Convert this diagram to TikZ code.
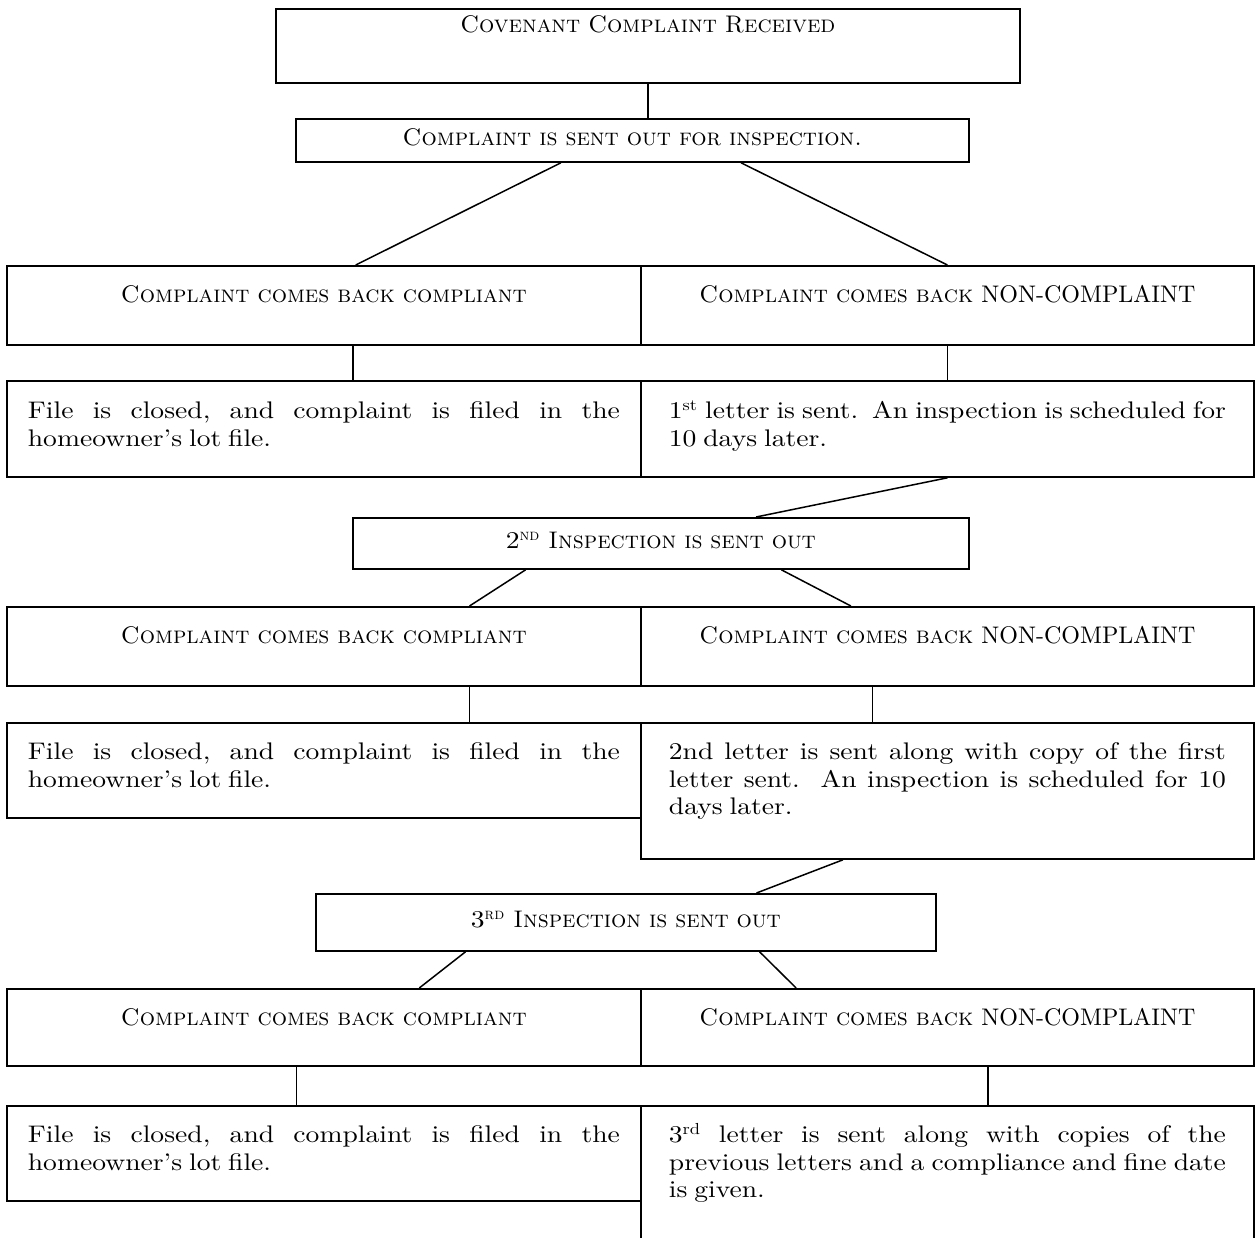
\documentclass[tikz,border=0pt]{standalone}
\usepackage{fontspec}
\setmainfont{lmroman10-regular.otf}[FakeStretch=1.15, WordSpace=0.75, SmallCapsFont=lmromancaps10-regular.otf, SmallCapsFeatures={FakeStretch=1.0}]
\newfontfamily\capsfont{lmroman10-regular.otf}
\hyphenpenalty=10000
\exhyphenpenalty=10000
\usetikzlibrary{calc}
\begin{document}
\begin{tikzpicture}[x=0.5pt,y=-0.5pt]
    \tikzstyle{box}=[draw, line width=0.9pt, anchor=north west, inner ysep=0pt, font=\fontsize{12}{13.75}\selectfont]
    \tikzstyle{cbox}=[box, inner xsep=0pt, align=center]
    \tikzstyle{lbox}=[box, inner xsep=10.5pt, text width=296pt, align=justify]
    \tikzstyle{rbox}=[box, inner xsep=14pt, text width=278.5pt, align=justify]
    \tikzstyle{conn}=[line width=0.75pt]
    \useasboundingbox (0,0) rectangle (1257,1237);
    % first inspection
    \node[cbox, text width=372pt, text height=12pt, text depth=25pt] (A) at (275,8) {\textsc{Covenant Complaint Received}};
    \node[cbox, text width=336.5pt, text height=13.5pt, text depth=8pt] (B) at (295,118) {\textsc{Complaint is sent out for inspection.}};
    \node[cbox, text width=317pt, text height=18.5pt, text depth=21pt] (C1) at (6,265) {\textsc{Complaint comes back compliant}};
    \node[cbox, text width=306.5pt, text height=18.5pt, text depth=21pt] (C2) at (640,265) {\textsc{Complaint comes back} {\capsfont NON-COMPLAINT}};
    \node[lbox, text height=19pt, text depth=29pt] (D1) at (6,380) {File~is~closed,~and~complaint~is~filed~in~the\linebreak homeowner's lot file.};
    \node[rbox, text height=19pt, text depth=29pt] (D2) at (640,380) {1\textsuperscript{st}~letter~is~sent.~~An~inspection~is~scheduled~for\linebreak 10 days later.};
    % second inspection
    \node[cbox, text width=308pt, text height=15.5pt, text depth=10pt] (E) at (352,517) {2\textsuperscript{\textsc{nd}} \textsc{Inspection is sent out}};
    \node[cbox, text width=317pt, text height=18.5pt, text depth=21pt] (F1) at (6,606) {\textsc{Complaint comes back compliant}};
    \node[cbox, text width=306.5pt, text height=18.5pt, text depth=21pt] (F2) at (640,606) {\textsc{Complaint comes back} {\capsfont NON-COMPLAINT}};
    \node[lbox, text height=18.5pt, text depth=29pt] (G1) at (6,722) {File~is~closed,~and~complaint~is~filed~in~the\linebreak homeowner's lot file.};
    \node[rbox, text height=18.5pt, text depth=49.5pt] (G2) at (640,722) {2nd~letter~is~sent~along~with~copy~of~the~first\linebreak letter~sent.~~An~inspection~is~scheduled~for~10\linebreak days later.};
    % third inspection
    \node[cbox, text width=310pt, text height=17pt, text depth=11.5pt] (H) at (315,893) {3\textsuperscript{\textsc{rd}} \textsc{Inspection is sent out}};
    \node[cbox, text width=317pt, text height=18.5pt, text depth=20pt] (I1) at (6,988) {\textsc{Complaint comes back compliant}};
    \node[cbox, text width=306.5pt, text height=18.5pt, text depth=20pt] (I2) at (640,988) {\textsc{Complaint comes back} {\capsfont NON-COMPLAINT}};
    \node[lbox, text height=18.5pt, text depth=29pt] (J1) at (6,1105) {File~is~closed,~and~complaint~is~filed~in~the\linebreak homeowner's lot file.};
    \node[rbox, text height=18.5pt, text depth=64pt] (J2) at (640,1105) {3\textsuperscript{rd}~letter~is~sent~along~with~copies~of~the\linebreak previous~letters~and~a~compliance~and~fine~date\linebreak is given.};
    % connectors
    \draw[conn] (A.south) -- (A.south |- B.north);
    \draw[conn] ($(B.south west)!0.394!(B.south east)$) -- ($(C1.north west)!0.55!(C1.north east)$);
    \draw[conn] ($(B.south west)!0.661!(B.south east)$) -- (C2.north);
    \draw[conn] (D2.south) -- ($(E.north west)!0.654!(E.north east)$);
    \draw[conn] ($(E.south west)!0.281!(E.south east)$) -- ($(F1.north west)!0.729!(F1.north east)$);
    \draw[conn] ($(E.south west)!0.695!(E.south east)$) -- ($(F2.north west)!0.343!(F2.north east)$);
    \draw[conn] ($(G2.south west)!0.33!(G2.south east)$) -- ($(H.north west)!0.71!(H.north east)$);
    \draw[conn] ($(H.south west)!0.242!(H.south east)$) -- ($(I1.north west)!0.65!(I1.north east)$);
    \draw[conn] ($(H.south west)!0.715!(H.south east)$) -- ($(I2.north west)!0.254!(I2.north east)$);
    \foreach \u/\l/\f in {C1/D1/0.546, C2/D2/0.5, F1/G1/0.729, F2/G2/0.378, I1/J1/0.457, I2/J2/0.566}
        \draw[conn] ($(\u.south west)!\f!(\u.south east)$) -- ($(\l.north west)!\f!(\l.north east)$);
\end{tikzpicture}
\end{document}
